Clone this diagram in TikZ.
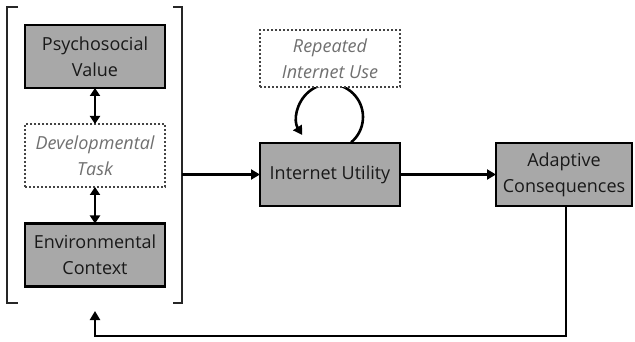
\documentclass[tikz,border=0pt]{standalone}
\usepackage{fontspec}
\setmainfont{Open Sans}
\usetikzlibrary{arrows.meta,backgrounds}
\definecolor{boxgray}{HTML}{A8A8A8}
\definecolor{dotgray}{HTML}{444444}
\definecolor{txtgray}{HTML}{707070}
\tikzset{
  solidbox/.style={draw=black, fill=boxgray, line width=2.6pt, minimum width=140pt, minimum height=63pt, inner sep=0pt, outer sep=0pt, align=center, font=\fontsize{18}{26}\selectfont, text=black!90},
  dotbox/.style={draw=dotgray, fill=white, line width=2pt, dash pattern=on 2pt off 2pt, minimum width=140pt, minimum height=63pt, inner sep=0pt, outer sep=0pt, align=center, font=\fontsize{18}{26}\selectfont\itshape, text=txtgray},
  conn/.style={line width=2.6pt, -{Triangle[length=9pt,width=10pt]}},
  dconn/.style={line width=2.6pt, {Triangle[length=8pt,width=10pt]}-{Triangle[length=8pt,width=10pt]}},
  brack/.style={line width=1.6pt, black!85},
}
\begin{document}
\begin{tikzpicture}[x=1pt,y=-1pt]
\useasboundingbox (0,0) rectangle (635,342);
% nodes
\node[solidbox] (psv) at (95,56.5) {Psychosocial\\Value};
\node[dotbox] (dev) at (95,155.5) {Developmental\\Task};
\node[solidbox] (env) at (95,255) {Environmental\\Context};
\node[dotbox, minimum height=57pt] (rep) at (330,58.5) {Repeated\\Internet Use};
\node[solidbox] (iu) at (330,174.5) {Internet Utility};
\node[solidbox, minimum width=136pt] (ac) at (564,174.5) {Adaptive\\Consequences};
% loop behind the repeated box
\begin{scope}[on background layer]
\draw[conn] (351.2,142.3) arc[start angle=50, end angle=-213, radius=33];
\end{scope}
% brackets
\draw[brack] (18,7) -- (7,7) -- (7,303) -- (18,303);
\draw[brack] (173,7) -- (182,7) -- (182,303) -- (173,303);
\coordinate (br) at (182,174.5);
\coordinate (fb1) at (566,336);
\coordinate (fb2) at (95,336);
\coordinate (fbend) at (95,311);
% connectors
\draw[dconn] (psv) -- (dev);
\draw[dconn] (dev) -- (env);
\draw[conn] (br) -- (iu);
\draw[conn] (iu) -- (ac);
\draw[conn] (ac.south -| fb1) -- (fb1) -- (fb2) -- (fbend);
\end{tikzpicture}
\end{document}
